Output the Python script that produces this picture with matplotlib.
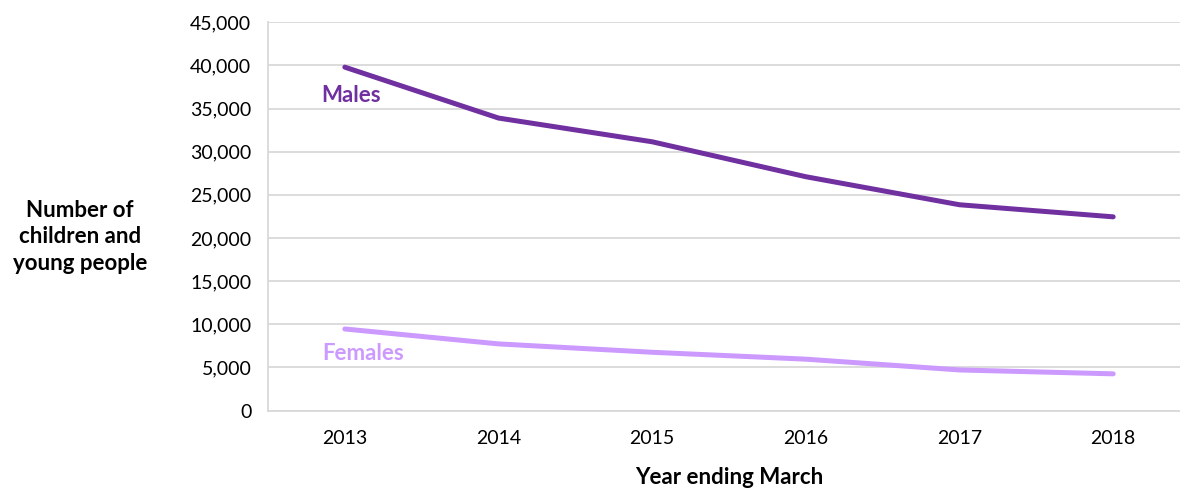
import matplotlib
matplotlib.use("Agg")
import matplotlib.pyplot as plt
from matplotlib.ticker import FuncFormatter, MultipleLocator

years = ["2013", "2014", "2015", "2016", "2017", "2018"]
males = [39800, 33900, 31150, 27100, 23850, 22450]
females = [9450, 7720, 6750, 5950, 4700, 4250]

plt.rcParams['font.family'] = ['Lato', 'DejaVu Sans']

fig = plt.figure(figsize=(11.8, 4.88), dpi=100)
ax = fig.add_axes([268/1180, 77.5/488, 922/1180, 388.2/488])

x = list(range(len(years)))
ax.plot(x, males, color="#7030A0", lw=3.6, solid_capstyle="round", solid_joinstyle="round", zorder=3)
ax.plot(x, females, color="#CC99FF", lw=3.6, solid_capstyle="round", solid_joinstyle="round", zorder=3)

ax.set_xlim(-0.5, 5.5)
ax.set_ylim(0, 45000)
ax.yaxis.set_major_locator(MultipleLocator(5000))
ax.yaxis.set_major_formatter(FuncFormatter(lambda v, p: f"{int(v):,}"))
ax.set_xticks(x)
ax.set_xticklabels(years)
ax.grid(axis="y", color="#D9D9D9", lw=1.3)
ax.set_axisbelow(True)
for s in ["top", "right"]:
    ax.spines[s].set_visible(False)
for s in ["left", "bottom"]:
    ax.spines[s].set_color("#D9D9D9")
    ax.spines[s].set_linewidth(1.3)
ax.tick_params(axis="both", length=0, labelsize=14, colors="#000000")
ax.tick_params(axis="y", pad=12)
ax.tick_params(axis="x", pad=14)

ax.text(0.04, 36500, "Males", color="#7030A0", fontsize=16, fontweight="bold", ha="center", va="center")
ax.text(0.12, 6600, "Females", color="#CC99FF", fontsize=16, fontweight="bold", ha="center", va="center")

fig.text(729/1180, 1 - 477/488, "Year ending March", fontsize=16, fontweight="bold", ha="center", va="center")
fig.text(80/1180, 1 - 237/488, "Number of\nchildren and\nyoung people", fontsize=16,
         fontweight="bold", ha="center", va="center", linespacing=1.3)

fig.savefig("out.png", dpi=100)
